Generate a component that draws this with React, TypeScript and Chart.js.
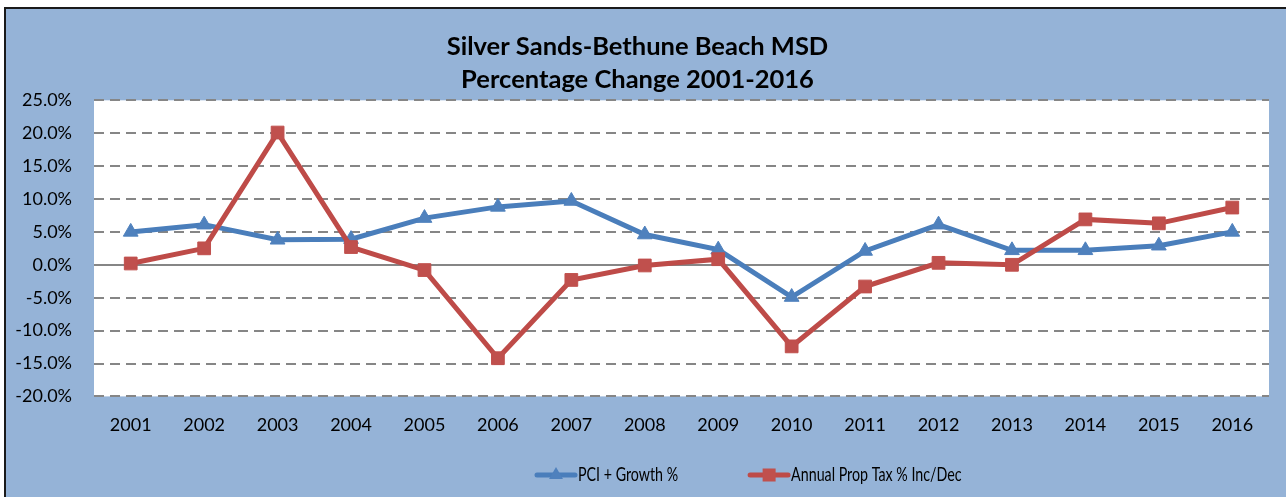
import React, { useEffect, useRef } from "react";
import { Chart, registerables } from "chart.js";

Chart.register(...registerables);

const TITLE_LINES = ["Silver Sands-Bethune Beach MSD", "Percentage Change 2001-2016"];
const categories = ["2001", "2002", "2003", "2004", "2005", "2006", "2007", "2008", "2009", "2010", "2011", "2012", "2013", "2014", "2015", "2016"];
const pciGrowth = [5.0, 6.1, 3.8, 3.9, 7.1, 8.8, 9.7, 4.6, 2.3, -4.9, 2.1, 6.1, 2.2, 2.2, 2.9, 5.0];
const propTax = [0.2, 2.5, 20.1, 2.7, -0.8, -14.2, -2.3, -0.1, 0.85, -12.4, -3.3, 0.3, 0.0, 6.9, 6.3, 8.7];
const seriesNames = ["PCI + Growth %", "Annual Prop Tax % Inc/Dec"];
const Y_MIN = -20;
const Y_MAX = 25;
const Y_STEP = 5;

const BLUE_LINE = "#4A7EBB";
const BLUE_MARK = "#4F81BD";
const RED_LINE = "#BE4B48";
const RED_MARK = "#C0504D";
const BG = "#95B3D7";
const FONT = "Lato, 'Open Sans', 'DejaVu Sans', sans-serif";

const LEGEND_START_X = 537;
const LEGEND_Y = 475;
const LEGEND_TEXT_SQUEEZE = 0.75;

const plotBgPlugin = {
  id: "plotBg",
  beforeDraw(chart: any) {
    const { ctx, chartArea } = chart;
    ctx.save();
    ctx.fillStyle = "#FFFFFF";
    ctx.fillRect(chartArea.left, chartArea.top, chartArea.right - chartArea.left, chartArea.bottom - chartArea.top);
    ctx.restore();
  },
};

const excelLegendPlugin = {
  id: "excelLegend",
  afterDraw(chart: any) {
    const { ctx } = chart;
    ctx.save();
    ctx.font = `19px ${FONT}`;
    ctx.textBaseline = "middle";
    ctx.textAlign = "left";
    let x = LEGEND_START_X;
    const y = LEGEND_Y;
    chart.data.datasets.forEach((ds: any) => {
      const lineLen = 38;
      ctx.strokeStyle = ds.borderColor;
      ctx.lineWidth = 5;
      ctx.lineCap = "round";
      ctx.beginPath();
      ctx.moveTo(x, y);
      ctx.lineTo(x + lineLen, y);
      ctx.stroke();
      ctx.fillStyle = ds.pointBackgroundColor;
      const cx = x + lineLen / 2;
      if (ds.pointStyle === "triangle") {
        const r = 8;
        ctx.beginPath();
        ctx.moveTo(cx, y - r);
        ctx.lineTo(cx + r * 0.866, y + r * 0.5);
        ctx.lineTo(cx - r * 0.866, y + r * 0.5);
        ctx.closePath();
        ctx.fill();
      } else {
        ctx.fillRect(cx - 6.5, y - 6.5, 13, 13);
      }
      ctx.fillStyle = "#000000";
      const w = ctx.measureText(ds.label).width * LEGEND_TEXT_SQUEEZE;
      ctx.fillText(ds.label, x + lineLen + 3, y, w);
      x += lineLen + 3 + w + 72;
    });
    ctx.restore();
  },
};

export default function App() {
  const canvasRef = useRef<HTMLCanvasElement | null>(null);

  useEffect(() => {
    document.body.style.margin = "0";
    document.body.style.overflow = "hidden";
    const canvas = canvasRef.current;
    if (!canvas) return;
    const chart = new Chart(canvas, {
      type: "line",
      data: {
        labels: categories,
        datasets: [
          {
            label: seriesNames[0],
            data: pciGrowth,
            borderColor: BLUE_LINE,
            backgroundColor: BLUE_MARK,
            pointBackgroundColor: BLUE_MARK,
            pointBorderColor: BLUE_MARK,
            pointStyle: "triangle",
            pointRadius: 8.5,
            pointBorderWidth: 1,
            borderWidth: 5,
            tension: 0,
            order: 1,
          },
          {
            label: seriesNames[1],
            data: propTax,
            borderColor: RED_LINE,
            backgroundColor: RED_MARK,
            pointBackgroundColor: RED_MARK,
            pointBorderColor: RED_MARK,
            pointStyle: "rect",
            pointRadius: 9,
            pointBorderWidth: 1,
            borderWidth: 5,
            tension: 0,
            order: 0,
          },
        ],
      },
      options: {
        animation: false,
        responsive: false,
        maintainAspectRatio: false,
        layout: { padding: { left: 6, right: 17, top: 0, bottom: 43 } },
        plugins: {
          legend: { display: false },
          tooltip: { enabled: false },
          title: {
            display: true,
            text: TITLE_LINES,
            color: "#000000",
            font: { family: FONT, size: 25.5, weight: "bold", lineHeight: 1.3 },
            padding: { top: 30, bottom: 4 },
          },
        },
        scales: {
          x: {
            offset: true,
            grid: { display: false, drawTicks: false },
            border: { display: false },
            ticks: {
              color: "#000000",
              font: { family: FONT, size: 18 },
              padding: 18,
              maxRotation: 0,
              autoSkip: false,
            },
          },
          y: {
            min: Y_MIN,
            max: Y_MAX,
            afterFit(scale: any) {
              scale.width = 88;
            },
            grid: {
              color: "#868686",
              lineWidth: 2,
              drawTicks: false,
            },
            border: {
              display: false,
              dash: (ctx: any) => (ctx.tick && ctx.tick.value === 0 ? [] : [10, 6]),
            },
            ticks: {
              stepSize: Y_STEP,
              color: "#000000",
              font: { family: FONT, size: 18 },
              padding: 22,
              callback: (v: any) => `${Number(v).toFixed(1)}%`,
            },
          },
        },
      },
      plugins: [plotBgPlugin, excelLegendPlugin],
    });
    return () => chart.destroy();
  }, []);

  return (
    <div style={{ position: "relative", width: 1286, height: 497, overflow: "hidden" }}>
      <div
        style={{
          position: "absolute",
          left: 4,
          top: 7,
          width: 1300,
          height: 520,
          border: "2px solid #1a1a1a",
          background: BG,
        }}
      />
      <canvas ref={canvasRef} width={1286} height={497} style={{ position: "absolute", left: 0, top: 0, width: 1286, height: 497 }} />
    </div>
  );
}
